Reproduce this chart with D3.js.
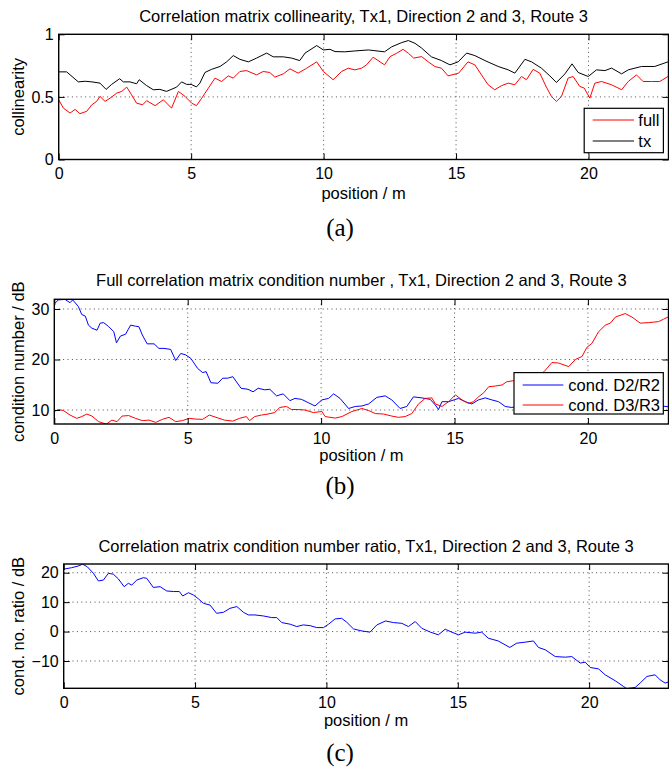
<!DOCTYPE html>
<html>
<head>
<meta charset="utf-8">
<script src="https://cdn.jsdelivr.net/npm/d3@7"></script>
<style>
  body { margin: 0; background: #fff; }
  svg { display: block; }
</style>
</head>
<body>
<svg id="chart" width="669" height="767"></svg>
<script>
// (a) collinearity
const fullPos = [0,0.18,0.43,0.62,0.8,1.06,1.25,1.43,1.56,1.75,1.94,2.19,2.38,2.57,2.75,2.94,3.17,3.32,3.64,3.95,4.26,4.52,4.77,5.02,5.2,5.4,5.65,5.9,6.15,6.4,6.59,6.84,7.09,7.47,7.72,7.97,8.16,8.48,8.73,9.04,9.36,9.74,9.99,10.36,10.68,10.93,11.18,11.43,11.62,11.87,12.13,12.3,12.51,12.76,13.0,13.2,13.4,13.7,13.95,14.2,14.45,14.7,15.1,15.45,15.71,15.96,16.21,16.46,16.71,16.97,17.22,17.47,17.66,17.91,18.16,18.41,18.6,18.79,18.98,19.23,19.42,19.67,19.84,20.05,20.24,20.49,20.87,21.25,21.5,21.81,22.06,22.38,22.69,23.0];
const fullVal = [0.477,0.41,0.371,0.40,0.366,0.385,0.437,0.464,0.504,0.464,0.49,0.53,0.544,0.578,0.517,0.45,0.437,0.47,0.43,0.477,0.41,0.544,0.504,0.45,0.43,0.49,0.57,0.65,0.623,0.668,0.65,0.703,0.71,0.676,0.703,0.695,0.658,0.684,0.724,0.69,0.729,0.78,0.703,0.637,0.703,0.729,0.716,0.729,0.756,0.817,0.78,0.756,0.822,0.849,0.88,0.849,0.81,0.822,0.78,0.743,0.729,0.668,0.69,0.78,0.756,0.676,0.597,0.557,0.589,0.61,0.597,0.663,0.637,0.72,0.69,0.578,0.504,0.464,0.504,0.65,0.663,0.584,0.57,0.49,0.61,0.623,0.597,0.557,0.623,0.676,0.623,0.623,0.623,0.663];
const txPos = [0,0.3,0.74,1.0,1.25,1.56,1.79,2.0,2.3,2.44,2.69,2.94,3.04,3.32,3.57,3.82,4.07,4.45,4.64,4.83,5.0,5.2,5.33,5.52,5.77,6.09,6.34,6.59,6.84,7.16,7.47,7.85,8.1,8.48,8.79,9.1,9.3,9.74,9.99,10.24,10.43,10.8,11.18,11.69,12.3,12.57,12.95,13.2,13.45,13.7,14.07,14.45,14.77,15.08,15.4,15.71,16.09,16.59,16.97,17.22,17.6,17.85,18.22,18.54,18.79,19.11,19.38,19.61,19.99,20.3,20.62,20.87,21.25,21.5,22.0,22.5,23.0];
const txVal = [0.70,0.70,0.62,0.625,0.62,0.61,0.56,0.60,0.645,0.62,0.62,0.605,0.637,0.59,0.557,0.56,0.544,0.578,0.62,0.60,0.60,0.58,0.61,0.695,0.72,0.743,0.78,0.83,0.80,0.78,0.81,0.85,0.82,0.82,0.81,0.79,0.85,0.91,0.875,0.88,0.862,0.86,0.867,0.875,0.86,0.90,0.934,0.95,0.928,0.89,0.82,0.79,0.756,0.78,0.85,0.83,0.79,0.743,0.716,0.69,0.80,0.78,0.73,0.668,0.615,0.684,0.764,0.695,0.663,0.716,0.71,0.73,0.684,0.716,0.743,0.743,0.78];

// (b) condition number / dB
const d2Pos = [0,0.15,0.4,0.59,0.69,0.9,1.03,1.16,1.28,1.41,1.6,1.72,1.85,2.04,2.23,2.33,2.48,2.67,2.86,3.04,3.17,3.3,3.48,3.74,3.92,4.11,4.36,4.55,4.74,4.93,5.12,5.37,5.56,5.69,5.87,6.13,6.31,6.5,6.69,7.0,7.26,7.45,7.64,7.89,8.08,8.33,8.58,8.83,9.02,9.27,9.52,9.77,10.03,10.28,10.47,10.71,11.03,11.28,11.53,11.78,12.09,12.4,12.65,12.96,13.21,13.46,13.78,14.09,14.28,14.4,14.53,14.78,15.15,15.4,15.65,15.9,16.15,16.4,16.65,16.9,17.15,17.6,18.1,18.6,19.1,19.6,20.1,20.6,21.1,21.6,22.1,22.6,23.0];
const d2Val = [31.0,31.8,31.9,31.25,31.8,30.5,28.9,28.6,26.8,26.2,25.8,27.2,27.3,26.5,25.5,23.3,24.65,25.0,26.8,26.6,26.5,24.85,23.1,23.1,22.2,22.2,22.0,19.8,21.2,20.9,20.2,18.25,17.4,17.6,15.4,15.3,16.3,16.3,16.6,14.3,14.1,13.6,14.3,14.0,14.1,12.8,13.2,11.85,12.3,12.1,11.45,10.8,12.0,12.3,13.2,12.3,10.3,10.7,10.8,11.2,12.5,12.8,12.0,10.3,10.7,12.6,12.4,12.1,11.0,10.1,11.65,11.65,12.3,11.65,11.2,12.0,12.4,12.0,11.65,10.7,10.5,11.0,11.6,11.2,10.6,11.3,11.8,11.0,10.4,10.9,11.5,10.9,10.65];
const d3Pos = [0,0.15,0.34,0.59,0.84,1.03,1.22,1.41,1.66,1.95,2.16,2.35,2.54,2.79,3.04,3.3,3.55,3.8,4.05,4.3,4.55,4.8,5.06,5.31,5.56,5.81,6.06,6.38,6.69,6.94,7.2,7.32,7.51,7.76,8.01,8.26,8.45,8.7,8.89,9.14,9.4,9.71,10.03,10.15,10.53,10.78,11.15,11.53,11.78,12.03,12.34,12.65,12.9,13.15,13.4,13.65,13.9,14.15,14.28,14.53,14.78,15.03,15.28,15.53,15.71,15.9,16.09,16.28,16.53,16.78,16.96,17.21,17.55,17.9,18.2,18.36,18.65,18.9,19.28,19.53,19.78,19.96,20.15,20.4,20.65,20.84,21.03,21.4,21.65,21.96,22.28,22.65,22.84,23.0];
const d3Val = [9.7,10.1,9.9,9.0,8.35,8.7,9.2,8.8,7.7,7.2,8.0,7.7,8.8,8.9,8.35,7.9,8.0,7.55,8.15,8.55,7.7,7.9,8.35,8.2,8.15,9.0,8.55,8.0,7.8,8.35,8.7,7.9,8.7,9.0,9.2,9.5,10.5,10.7,10.1,10.1,10.0,9.5,9.7,8.7,8.4,8.7,9.7,10.3,9.9,9.3,9.2,8.8,8.55,8.7,9.3,11.2,12.3,12.4,11.2,10.7,11.65,13.0,12.0,11.3,11.65,12.6,13.4,14.6,14.75,14.95,15.6,15.8,16.2,16.6,17.0,17.6,19.4,19.3,18.6,20.0,20.6,22.4,23.2,25.5,26.8,27.2,28.4,29.1,28.4,27.2,27.3,27.5,28.0,28.4];

// (c) condition number ratio / dB
const ratioPos = [0,0.3,0.56,0.72,0.9,1.13,1.32,1.51,1.7,1.89,2.08,2.3,2.46,2.59,2.78,3.03,3.16,3.41,3.67,3.92,4.18,4.4,4.53,4.75,4.94,5.13,5.32,5.57,5.82,6.08,6.33,6.59,6.84,7.03,7.28,7.6,7.92,8.11,8.3,8.62,8.87,9.12,9.38,9.63,9.89,10.08,10.33,10.58,10.77,11.03,11.35,11.66,11.92,12.25,12.55,12.87,13.12,13.38,13.63,13.96,14.26,14.52,14.77,15.03,15.28,15.66,15.91,16.16,16.54,16.98,17.24,17.56,17.88,18.07,18.33,18.71,19.09,19.34,19.66,19.85,20.04,20.36,20.61,20.99,21.3,21.43,21.75,21.94,22.2,22.51,22.7,22.89,23.0];
const ratioVal = [21.2,21.7,22.3,22.9,22.0,19.8,17.2,17.5,19.8,19.5,17.9,15.25,16.4,15.8,17.5,18.3,18.1,15.0,15.25,13.8,13.6,13.6,12.1,13.2,12.4,11.1,9.6,9.0,6.2,6.55,7.9,8.5,6.55,5.65,5.65,5.3,4.75,4.75,3.05,2.5,1.7,2.26,2.0,1.35,1.35,2.5,4.3,4.5,3.2,0.9,0.2,-0.2,2.26,3.6,3.05,2.8,1.7,3.4,1.1,-0.2,-1.1,0.8,-0.2,-1.1,-0.2,-0.55,-0.2,-2.26,-3.2,-5.4,-3.95,-3.6,-3.2,-5.4,-6.2,-8.5,-8.7,-8.5,-10.7,-10.4,-12.2,-12.7,-14.7,-16.7,-18.6,-19.4,-19.0,-17.5,-15.25,-14.7,-16.4,-17.5,-17.2];

const xTicks = [0, 5, 10, 15, 20];
const xMax = 23.02;

const sans = '"Liberation Sans", Arial, Helvetica, sans-serif';
const serif = '"Liberation Serif", "Times New Roman", serif';

const panels = [
  {
    id: 'a', left: 58.7, right: 668.5, top: 34.3, bottom: 159.5,
    yDomain: [0, 1], yTicks: [0, 0.5, 1],
    title: 'Correlation matrix collinearity, Tx1, Direction 2 and 3, Route 3', titleY: 22,
    ylabel: 'collinearity', xlabelY: 199, caption: '(a)', captionY: 235.5,
    series: [
      { name: 'full', pos: fullPos, val: fullVal, color: '#ff0000' },
      { name: 'tx', pos: txPos, val: txVal, color: '#000000' }
    ],
    legend: { x: 584.2, y: 108.3, w: 79.2, h: 44.4, x1: 592.7, x2: 634, tx: 638.3, rows: [120, 141] }
  },
  {
    id: 'b', left: 54.3, right: 668.5, top: 299.3, bottom: 424,
    yDomain: [7.23, 31.92], yTicks: [10, 20, 30],
    title: 'Full correlation matrix condition number , Tx1, Direction 2 and 3, Route 3', titleY: 286,
    ylabel: 'condition number / dB', xlabelY: 460.5, caption: '(b)', captionY: 494,
    series: [
      { name: 'cond. D2/R2', pos: d2Pos, val: d2Val, color: '#0000ff' },
      { name: 'cond. D3/R3', pos: d3Pos, val: d3Val, color: '#ff0000' }
    ],
    legend: { x: 514, y: 372.6, w: 149.3, h: 41.4, x1: 522.7, x2: 563.3, tx: 568.3, rows: [385, 405] }
  },
  {
    id: 'c', left: 63.7, right: 668.5, top: 564, bottom: 688.3,
    yDomain: [-19.28, 22.96], yTicks: [-10, 0, 10, 20],
    title: 'Correlation matrix condition number ratio, Tx1, Direction 2 and 3, Route 3', titleY: 552,
    ylabel: 'cond. no. ratio / dB', xlabelY: 725.5, caption: '(c)', captionY: 760.5,
    series: [
      { name: 'ratio', pos: ratioPos, val: ratioVal, color: '#0000ff' }
    ],
    legend: null
  }
];

function drawPanel(svg, p) {
  const x = d3.scaleLinear().domain([0, xMax]).range([p.left, p.right]);
  const y = d3.scaleLinear().domain(p.yDomain).range([p.bottom, p.top]);
  const fmt = d3.format('');
  const g = svg.append('g').attr('class', 'panel-' + p.id);

  g.append('clipPath').attr('id', 'clip-' + p.id)
    .append('rect')
      .attr('x', p.left).attr('y', p.top)
      .attr('width', p.right - p.left).attr('height', p.bottom - p.top);

  // dotted grid
  const grid = g.append('g')
      .attr('stroke', '#222')
      .attr('stroke-width', 0.8)
      .attr('stroke-dasharray', '1,3.4');
  grid.selectAll('line.gx')
    .data(xTicks.filter(d => d > 0 && x(d) < p.right - 1))
    .join('line')
      .attr('class', 'gx')
      .attr('x1', d => x(d)).attr('x2', d => x(d))
      .attr('y1', p.top).attr('y2', p.bottom);
  grid.selectAll('line.gy')
    .data(p.yTicks.filter(d => y(d) > p.top + 1 && y(d) < p.bottom - 1))
    .join('line')
      .attr('class', 'gy')
      .attr('x1', p.left).attr('x2', p.right)
      .attr('y1', d => y(d)).attr('y2', d => y(d));

  const line = d3.line().x(d => x(d[0])).y(d => y(d[1]));
  g.append('g')
      .attr('clip-path', `url(#clip-${p.id})`)
      .attr('fill', 'none')
    .selectAll('path')
    .data(p.series)
    .join('path')
      .attr('stroke', d => d.color)
      .attr('stroke-width', 1)
      .attr('stroke-linejoin', 'round')
      .attr('d', d => line(d3.zip(d.pos, d.val)));

  const styleAxis = a => {
    a.attr('font-size', 16).attr('font-family', sans);
    a.select('.domain').remove();
    a.selectAll('.tick line').attr('stroke', '#000').attr('stroke-width', 1);
    a.selectAll('.tick text').attr('fill', '#000');
  };

  g.append('g')
      .attr('transform', `translate(0,${p.bottom})`)
      .call(d3.axisBottom(x).tickValues(xTicks).tickFormat(fmt).tickSize(-6).tickSizeOuter(0).tickPadding(8.6))
      .call(styleAxis);
  g.append('g')
      .attr('transform', `translate(0,${p.top})`)
      .call(d3.axisTop(x).tickValues(xTicks).tickFormat('').tickSize(-6).tickSizeOuter(0))
      .call(styleAxis);
  g.append('g')
      .attr('transform', `translate(${p.left},0)`)
      .call(d3.axisLeft(y).tickValues(p.yTicks).tickFormat(fmt).tickSize(-6).tickSizeOuter(0).tickPadding(5))
      .call(styleAxis);
  g.append('g')
      .attr('transform', `translate(${p.right},0)`)
      .call(d3.axisRight(y).tickValues(p.yTicks).tickFormat('').tickSize(-6).tickSizeOuter(0))
      .call(styleAxis);

  g.append('rect')
      .attr('x', p.left).attr('y', p.top)
      .attr('width', p.right - p.left).attr('height', p.bottom - p.top)
      .attr('fill', 'none')
      .attr('stroke', '#000')
      .attr('stroke-width', 1.4);

  const cx = (p.left + p.right) / 2;
  g.append('text')
      .attr('x', cx).attr('y', p.titleY)
      .attr('text-anchor', 'middle')
      .attr('font-family', sans).attr('font-size', 16.5)
      .text(p.title);
  g.append('text')
      .attr('x', cx).attr('y', p.xlabelY)
      .attr('text-anchor', 'middle')
      .attr('font-family', sans).attr('font-size', 16.5)
      .text('position / m');
  g.append('text')
      .attr('transform', `translate(23.5,${(p.top + p.bottom) / 2}) rotate(-90)`)
      .attr('text-anchor', 'middle')
      .attr('font-family', sans).attr('font-size', 16.5)
      .text(p.ylabel);
  g.append('text')
      .attr('x', 340).attr('y', p.captionY)
      .attr('text-anchor', 'middle')
      .attr('font-family', serif).attr('font-size', 25)
      .text(p.caption);

  if (p.legend) {
    const L = p.legend;
    const lg = g.append('g');
    lg.append('rect')
        .attr('x', L.x).attr('y', L.y).attr('width', L.w).attr('height', L.h)
        .attr('fill', '#fff').attr('stroke', '#000').attr('stroke-width', 1.2);
    const row = lg.selectAll('g.row')
      .data(p.series)
      .join('g')
        .attr('class', 'row')
        .attr('transform', (d, i) => `translate(0,${L.rows[i]})`);
    row.append('line')
        .attr('x1', L.x1).attr('x2', L.x2)
        .attr('stroke', d => d.color).attr('stroke-width', 1);
    row.append('text')
        .attr('x', L.tx).attr('dy', '0.38em')
        .attr('font-family', sans).attr('font-size', 16.5)
        .text(d => d.name);
  }
}

const svg = d3.select('#chart');
svg.append('rect').attr('width', 669).attr('height', 767).attr('fill', '#fff');
panels.forEach(p => drawPanel(svg, p));
</script>
</body>
</html>
